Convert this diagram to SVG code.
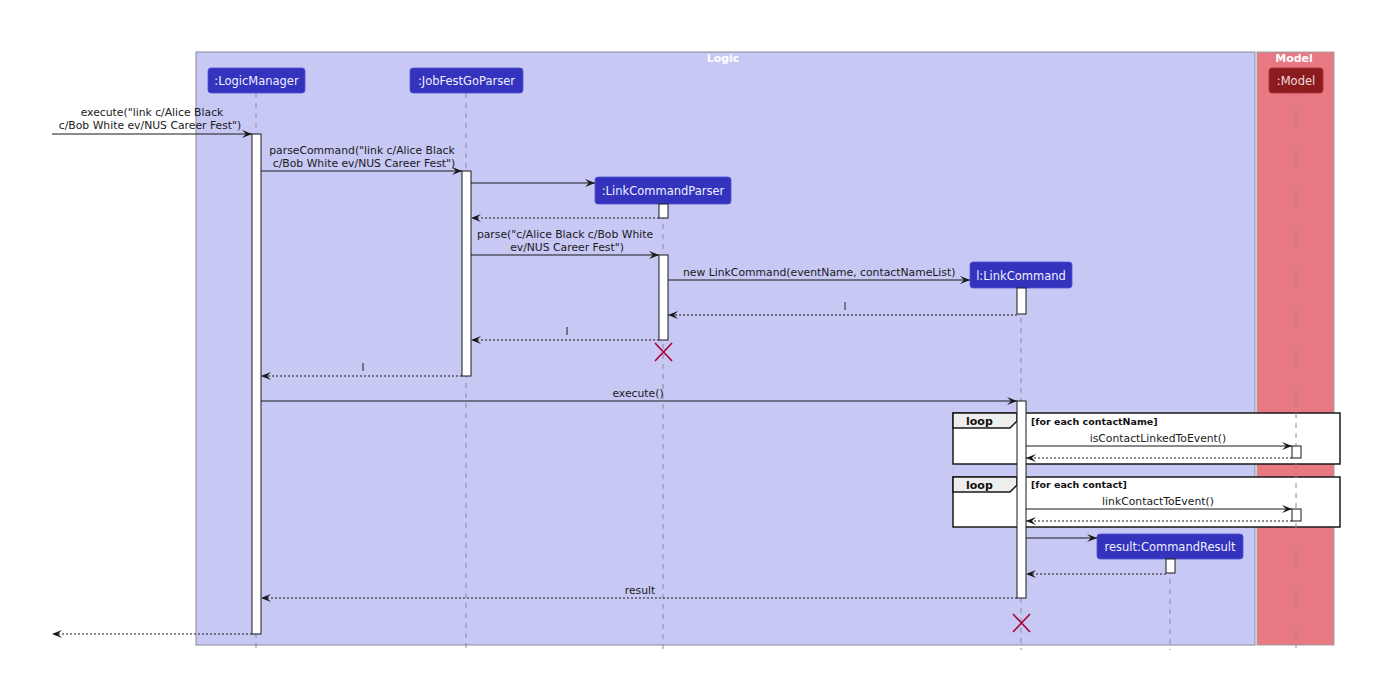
<svg xmlns="http://www.w3.org/2000/svg" width="1386" height="688" viewBox="0 0 1386 688">
<style>
text{font-family:"DejaVu Sans","Liberation Sans",sans-serif;}
.msg{font-size:10.8px;fill:#1a1a1a;}
.mc{text-anchor:middle;}
.pt{font-size:11.5px;fill:#F0F0FF;text-anchor:middle;}
.ph{fill:#3333BE;stroke:#5050D0;stroke-width:0.8;}
.life{stroke:#8a8a9a;stroke-width:1;stroke-dasharray:5,5;fill:none;}
.act{fill:#FFFFFF;stroke:#181818;stroke-width:1;}
.sol{stroke:#181818;stroke-width:1;fill:none;}
.ret{stroke:#181818;stroke-width:1;fill:none;stroke-dasharray:2,2;}
.xm{stroke:#A80036;stroke-width:1.6;}
.frame{fill:#FFFFFF;stroke:#181818;stroke-width:1.5;}
.tab{fill:#EEEEEE;stroke:#181818;stroke-width:1.5;}
.ft{font-size:11px;font-weight:bold;fill:#111;}
.fg{font-size:9.5px;font-weight:bold;fill:#111;}
.bt{font-size:11px;font-weight:bold;fill:#FFFFFF;text-anchor:middle;}
</style>
<defs>
<marker id="ah" markerWidth="10" markerHeight="8" refX="10" refY="4" orient="auto" markerUnits="userSpaceOnUse">
<path d="M0,0 L10,4 L0,8 L4,4 Z" fill="#181818"/>
</marker>
</defs>
<rect width="1386" height="688" fill="#FFFFFF"/>
<g id="box-logic">
<rect x="196" y="52" width="1059" height="593" fill="#C8C8F5" stroke="#8a8a99" stroke-width="1"/>
<text class="bt" x="723" y="62">Logic</text>
</g>
<g id="box-model">
<rect x="1257" y="52" width="77" height="593" fill="#E87982" stroke="#a0a0a0" stroke-width="1"/>
<text class="bt" x="1294" y="62">Model</text>
</g>
<g id="loop1">
<rect class="frame" x="953" y="413" width="387" height="51"/>
<path class="tab" d="M953,413 H1017 V421 L1010,428 H953 Z"/>
<text class="ft" x="966" y="425">loop</text>
<text class="fg" x="1031" y="425">[for each contactName]</text>
</g>
<g id="loop2">
<rect class="frame" x="953" y="477" width="387" height="50"/>
<path class="tab" d="M953,477 H1017 V485 L1010,492 H953 Z"/>
<text class="ft" x="966" y="489">loop</text>
<text class="fg" x="1031" y="488">[for each contact]</text>
</g>
<g id="p-logicmanager">
<line class="life" x1="256" y1="93" x2="256" y2="650"/>
<rect class="ph" x="208" y="68" width="97" height="25" rx="3"/>
<text class="pt" x="256.5" y="85">:LogicManager</text>
<rect class="act" x="252" y="134" width="9" height="500"/>
</g>
<g id="p-jobfestgoparser">
<line class="life" x1="466" y1="93" x2="466" y2="650"/>
<rect class="ph" x="410" y="68" width="113" height="25" rx="3"/>
<text class="pt" x="466.5" y="85">:JobFestGoParser</text>
<rect class="act" x="462" y="171" width="9" height="205"/>
</g>
<g id="p-linkcommandparser">
<line class="life" x1="663" y1="204" x2="663" y2="650"/>
<rect class="ph" x="595" y="177" width="136" height="27" rx="3"/>
<text class="pt" x="663" y="195">:LinkCommandParser</text>
<rect class="act" x="659" y="204" width="9" height="14"/>
<rect class="act" x="659" y="255" width="9" height="85"/>
<path class="xm" d="M655,343 L672,361 M655,361 L672,343"/>
</g>
<g id="p-linkcommand">
<line class="life" x1="1021" y1="288" x2="1021" y2="650"/>
<rect class="ph" x="970" y="262" width="102" height="26" rx="3"/>
<text class="pt" x="1021" y="280">l:LinkCommand</text>
<rect class="act" x="1017" y="288" width="9" height="26"/>
<rect class="act" x="1017" y="401" width="9" height="197"/>
<path class="xm" d="M1013,614 L1030,632 M1013,632 L1030,614"/>
</g>
<g id="p-commandresult">
<line class="life" x1="1170" y1="559" x2="1170" y2="650"/>
<rect class="ph" x="1097" y="534" width="146" height="25" rx="3"/>
<text class="pt" x="1170" y="551">result:CommandResult</text>
<rect class="act" x="1166" y="559" width="9" height="14"/>
</g>
<g id="p-model">
<line class="life" x1="1296" y1="93" x2="1296" y2="650"/>
<rect x="1269" y="68" width="54" height="25" rx="3" fill="#8C1B1F" stroke="#a53035" stroke-width="0.8"/>
<text class="pt" x="1296" y="85" style="fill:#F2DADA">:Model</text>
<rect class="act" x="1292" y="446" width="9" height="12"/>
<rect class="act" x="1292" y="509" width="9" height="12"/>
</g>
<g id="connectors">
<line class="sol" x1="52" y1="134" x2="252" y2="134" marker-end="url(#ah)"/>
<text class="msg mc" x="152" y="116">execute("link c/Alice Black</text>
<text class="msg mc" x="150" y="129">c/Bob White ev/NUS Career Fest")</text>
<line class="sol" x1="261" y1="171" x2="462" y2="171" marker-end="url(#ah)"/>
<text class="msg mc" x="362" y="154">parseCommand("link c/Alice Black</text>
<text class="msg mc" x="364" y="167"> c/Bob White ev/NUS Career Fest")</text>
<line class="sol" x1="471" y1="183" x2="595" y2="183" marker-end="url(#ah)"/>
<line class="ret" x1="659" y1="218" x2="471" y2="218" marker-end="url(#ah)"/>
<line class="sol" x1="471" y1="255" x2="659" y2="255" marker-end="url(#ah)"/>
<text class="msg mc" x="565" y="238">parse("c/Alice Black c/Bob White</text>
<text class="msg mc" x="567" y="251">ev/NUS Career Fest")</text>
<line class="sol" x1="668" y1="280" x2="970" y2="280" marker-end="url(#ah)"/>
<text class="msg" x="683" y="276">new LinkCommand(eventName, contactNameList)</text>
<line class="ret" x1="1017" y1="315" x2="668" y2="315" marker-end="url(#ah)"/>
<text class="msg mc" x="845" y="310">l</text>
<line class="ret" x1="659" y1="340" x2="471" y2="340" marker-end="url(#ah)"/>
<text class="msg mc" x="567" y="335">l</text>
<line class="ret" x1="462" y1="376" x2="261" y2="376" marker-end="url(#ah)"/>
<text class="msg mc" x="363" y="371">l</text>
<line class="sol" x1="261" y1="401" x2="1017" y2="401" marker-end="url(#ah)"/>
<text class="msg mc" x="638" y="397">execute()</text>
<line class="sol" x1="1026" y1="446" x2="1292" y2="446" marker-end="url(#ah)"/>
<text class="msg mc" x="1158" y="442">isContactLinkedToEvent()</text>
<line class="ret" x1="1292" y1="458" x2="1026" y2="458" marker-end="url(#ah)"/>
<line class="sol" x1="1026" y1="509" x2="1292" y2="509" marker-end="url(#ah)"/>
<text class="msg mc" x="1158" y="505">linkContactToEvent()</text>
<line class="ret" x1="1292" y1="521" x2="1026" y2="521" marker-end="url(#ah)"/>
<line class="sol" x1="1026" y1="538" x2="1097" y2="538" marker-end="url(#ah)"/>
<line class="ret" x1="1166" y1="574" x2="1026" y2="574" marker-end="url(#ah)"/>
<line class="ret" x1="1017" y1="598" x2="261" y2="598" marker-end="url(#ah)"/>
<text class="msg mc" x="640" y="594">result</text>
<line class="ret" x1="252" y1="634" x2="52" y2="634" marker-end="url(#ah)"/>
</g>
</svg>
